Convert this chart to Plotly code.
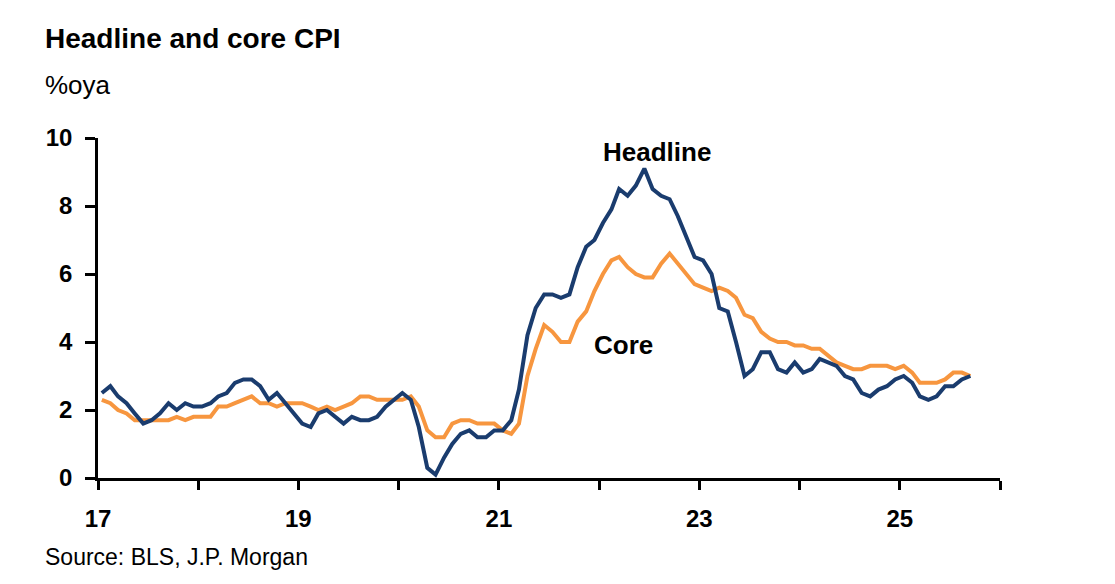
import pandas as pd
import plotly.graph_objects as go

# monthly CPI, %oya, Jan 2017 - Sep 2025
headline = [2.5, 2.7, 2.4, 2.2, 1.9, 1.6, 1.7, 1.9, 2.2, 2.0, 2.2, 2.1,
            2.1, 2.2, 2.4, 2.5, 2.8, 2.9, 2.9, 2.7, 2.3, 2.5, 2.2, 1.9,
            1.6, 1.5, 1.9, 2.0, 1.8, 1.6, 1.8, 1.7, 1.7, 1.8, 2.1, 2.3,
            2.5, 2.3, 1.5, 0.3, 0.1, 0.6, 1.0, 1.3, 1.4, 1.2, 1.2, 1.4,
            1.4, 1.7, 2.6, 4.2, 5.0, 5.4, 5.4, 5.3, 5.4, 6.2, 6.8, 7.0,
            7.5, 7.9, 8.5, 8.3, 8.6, 9.1, 8.5, 8.3, 8.2, 7.7, 7.1, 6.5,
            6.4, 6.0, 5.0, 4.9, 4.0, 3.0, 3.2, 3.7, 3.7, 3.2, 3.1, 3.4,
            3.1, 3.2, 3.5, 3.4, 3.3, 3.0, 2.9, 2.5, 2.4, 2.6, 2.7, 2.9,
            3.0, 2.8, 2.4, 2.3, 2.4, 2.7, 2.7, 2.9, 3.0]
core = [2.3, 2.2, 2.0, 1.9, 1.7, 1.7, 1.7, 1.7, 1.7, 1.8, 1.7, 1.8,
        1.8, 1.8, 2.1, 2.1, 2.2, 2.3, 2.4, 2.2, 2.2, 2.1, 2.2, 2.2,
        2.2, 2.1, 2.0, 2.1, 2.0, 2.1, 2.2, 2.4, 2.4, 2.3, 2.3, 2.3,
        2.3, 2.4, 2.1, 1.4, 1.2, 1.2, 1.6, 1.7, 1.7, 1.6, 1.6, 1.6,
        1.4, 1.3, 1.6, 3.0, 3.8, 4.5, 4.3, 4.0, 4.0, 4.6, 4.9, 5.5,
        6.0, 6.4, 6.5, 6.2, 6.0, 5.9, 5.9, 6.3, 6.6, 6.3, 6.0, 5.7,
        5.6, 5.5, 5.6, 5.5, 5.3, 4.8, 4.7, 4.3, 4.1, 4.0, 4.0, 3.9,
        3.9, 3.8, 3.8, 3.6, 3.4, 3.3, 3.2, 3.2, 3.3, 3.3, 3.3, 3.2,
        3.3, 3.1, 2.8, 2.8, 2.8, 2.9, 3.1, 3.1, 3.0]

dates = pd.date_range("2017-01-01", periods=len(headline), freq="MS") + pd.Timedelta(days=14)

year_ticks = [f"{y}-01-01" for y in range(2017, 2027)]
year_text = [str(y - 2000) if y % 2 == 1 else "" for y in range(2017, 2027)]

navy = "#1A3C6E"
orange = "#F7963F"
font_family = "Liberation Sans, Arial, sans-serif"

fig = go.Figure()
fig.add_trace(go.Scatter(x=dates, y=core, mode="lines", name="Core",
                         line=dict(color=orange, width=4)))
fig.add_trace(go.Scatter(x=dates, y=headline, mode="lines", name="Headline",
                         line=dict(color=navy, width=4)))

fig.update_layout(
    width=1115, height=584,
    margin=dict(l=90, r=123, t=130, b=114),
    paper_bgcolor="white", plot_bgcolor="white",
    showlegend=False,
    font=dict(family=font_family, color="black"),
)

fig.update_xaxes(
    range=["2017-01-01", "2026-01-01"],
    tickmode="array", tickvals=year_ticks, ticktext=year_text,
    showline=True, linecolor="black", linewidth=2.5,
    ticks="outside", ticklen=9, tickwidth=2.5, tickcolor="black",
    showgrid=False, zeroline=False,
    tickfont=dict(size=24, family=font_family, weight="bold"),
    ticklabelstandoff=8,
)
fig.update_yaxes(
    range=[0, 10], tickvals=[0, 2, 4, 6, 8, 10],
    showline=True, linecolor="black", linewidth=2.5,
    ticks="outside", ticklen=10, tickwidth=2.5, tickcolor="black",
    showgrid=False, zeroline=False,
    tickfont=dict(size=24, family=font_family, weight="bold"),
    ticklabelstandoff=8,
)

# titles and labels
fig.add_annotation(text="<b>Headline and core CPI</b>", xref="paper", yref="paper",
                   x=-0.061, y=1.0, xanchor="left", yanchor="middle",
                   yshift=100, showarrow=False, font=dict(size=28))
fig.add_annotation(text="%oya", xref="paper", yref="paper",
                   x=-0.061, y=1.0, xanchor="left", yanchor="middle",
                   yshift=53, showarrow=False, font=dict(size=26))
fig.add_annotation(text="Source: BLS, J.P. Morgan", xref="paper", yref="paper",
                   x=-0.061, y=0, xanchor="left", yanchor="middle",
                   yshift=-79, showarrow=False, font=dict(size=23))
fig.add_annotation(text="<b>Headline</b>", x="2022-08-01", y=9.6, xref="x", yref="y",
                   showarrow=False, font=dict(size=26))
fig.add_annotation(text="<b>Core</b>", x="2022-04-01", y=3.9, xref="x", yref="y",
                   showarrow=False, font=dict(size=26))

fig.write_html("out.html")
